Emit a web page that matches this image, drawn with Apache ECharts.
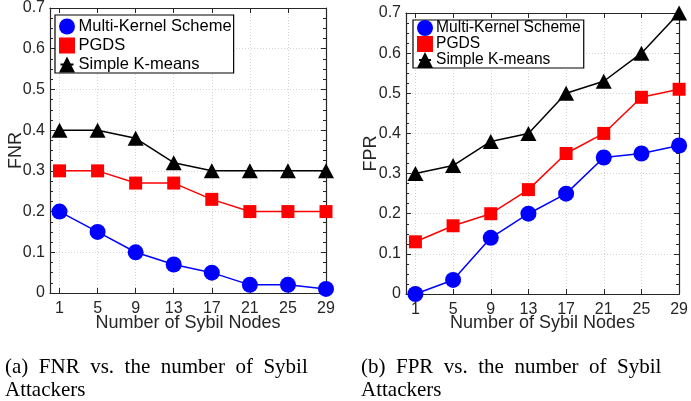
<!DOCTYPE html>
<html>
<head>
<meta charset="utf-8">
<script src="https://cdn.jsdelivr.net/npm/echarts@6/dist/echarts.min.js"></script>
<style>
  html, body { margin: 0; padding: 0; background: #fff; }
  #chart { width: 691px; height: 401px; }
</style>
</head>
<body>
<div id="chart"></div>
<script>
// data
const nodes = [1, 5, 9, 13, 17, 21, 25, 29];
const seriesNames = ['Multi-Kernel Scheme', 'PGDS', 'Simple K-means'];

const fnrMultiKernel = [0.2, 0.15, 0.1, 0.07, 0.05, 0.02, 0.02, 0.01];
const fnrPGDS = [0.3, 0.3, 0.27, 0.27, 0.23, 0.2, 0.2, 0.2];
const fnrKmeans = [0.4, 0.4, 0.38, 0.32, 0.3, 0.3, 0.3, 0.3];

const fprMultiKernel = [0, 0.035, 0.14, 0.2, 0.25, 0.34, 0.35, 0.37];
const fprPGDS = [0.13, 0.17, 0.2, 0.26, 0.35, 0.4, 0.49, 0.51];
const fprKmeans = [0.3, 0.32, 0.38, 0.4, 0.5, 0.53, 0.6, 0.7];

const chart = echarts.init(document.getElementById('chart'));

const axisColor = '#262626';
const font = 'Liberation Sans';
const gridLine = { show: true, lineStyle: { color: '#d4d4d4', type: [1, 2], width: 1 } };

function xAxes(grid, gap) {
    const base = {
        type: 'value', gridIndex: grid, min: 0, max: 29,
        axisLine: { show: true, onZero: false, lineStyle: { color: axisColor, width: 1.2 } },
        axisTick: { show: true, inside: true, length: 5, customValues: nodes, lineStyle: { color: axisColor } }
    };
    return [
        Object.assign({}, base, {
            position: 'bottom',
            axisLabel: { customValues: nodes, margin: 8, color: axisColor, fontSize: 16, fontFamily: font },
            splitLine: gridLine,
            name: 'Number of Sybil Nodes', nameLocation: 'middle', nameGap: gap, nameMoveOverlap: false,
            nameTextStyle: { color: axisColor, fontSize: 18, fontFamily: font }
        }),
        Object.assign({}, base, { position: 'top', axisLabel: { show: false }, splitLine: { show: false } })
    ];
}

function yAxes(grid, name, gap) {
    const base = {
        type: 'value', gridIndex: grid, min: 0, max: 0.7, interval: 0.1,
        axisLine: { show: true, onZero: false, lineStyle: { color: axisColor, width: 1.2 } },
        axisTick: { show: true, inside: true, length: 5, lineStyle: { color: axisColor } },
        minorTick: { show: true, splitNumber: 4, length: 3, lineStyle: { color: axisColor } }
    };
    return [
        Object.assign({}, base, {
            position: 'left',
            axisLabel: { margin: 5, color: axisColor, fontSize: 16, fontFamily: font },
            splitLine: gridLine,
            name: name, nameLocation: 'middle', nameGap: gap, nameMoveOverlap: false,
            nameTextStyle: { color: axisColor, fontSize: 18, fontFamily: font }
        }),
        Object.assign({}, base, { position: 'right', axisLabel: { show: false }, splitLine: { show: false } })
    ];
}

const styles = [
    { color: '#0000ff', symbol: 'circle', size: 16 },
    { color: '#ff0000', symbol: 'rect', size: 13 },
    { color: '#000000', symbol: 'triangle', size: [16, 15] }
];

function makeSeries(values, idx, grid) {
    const s = styles[idx];
    return {
        name: seriesNames[idx],
        type: 'line',
        xAxisIndex: grid * 2,
        yAxisIndex: grid * 2,
        data: nodes.map((n, i) => [n, values[i]]),
        symbol: s.symbol,
        symbolSize: s.size,
        clip: false,
        lineStyle: { color: s.color, width: 1.5 },
        itemStyle: { color: s.color },
        z: 3 + idx
    };
}

function legendAt(left, top, fontSize, gap, iconWidth, padding) {
    return {
        data: seriesNames,
        orient: 'vertical',
        left: left, top: top,
        itemWidth: iconWidth, itemHeight: 20, itemGap: gap,
        padding: padding,
        borderColor: '#000', borderWidth: 1.2,
        backgroundColor: '#fff',
        textStyle: { color: '#000', fontSize: fontSize, fontFamily: font },
        selectedMode: false
    };
}

const captionStyle = { fontFamily: 'Liberation Serif', fontSize: 21, fill: '#000' };

const option = {
    animation: false,
    backgroundColor: '#fff',
    grid: [
        { left: 50, top: 8, width: 276, height: 285 },
        { left: 406, top: 13, width: 279, height: 281 }
    ],
    xAxis: [...xAxes(0, 21), ...xAxes(1, 20)],
    yAxis: [...yAxes(0, 'FNR', 25), ...yAxes(1, 'FPR', 26)],
    legend: [
        legendAt(55, 15, 16.5, 2, 13, [3, 2, 0, 4]),
        legendAt(413, 20, 15.6, 0, 12, [0, 3, 0, 4])
    ],
    series: [
        makeSeries(fnrMultiKernel, 0, 0),
        makeSeries(fnrPGDS, 1, 0),
        makeSeries(fnrKmeans, 2, 0),
        makeSeries(fprMultiKernel, 0, 1),
        makeSeries(fprPGDS, 1, 1),
        makeSeries(fprKmeans, 2, 1)
    ],
    graphic: [
        { type: 'text', left: 5, top: 357, style: Object.assign({ text: '(a)  FNR  vs.  the  number  of  Sybil' }, captionStyle) },
        { type: 'text', left: 5, top: 380, style: Object.assign({ text: 'Attackers' }, captionStyle) },
        { type: 'text', left: 361, top: 357, style: Object.assign({ text: '(b)  FPR  vs.  the  number  of  Sybil' }, captionStyle) },
        { type: 'text', left: 361, top: 380, style: Object.assign({ text: 'Attackers' }, captionStyle) }
    ]
};

chart.setOption(option);
</script>
</body>
</html>
